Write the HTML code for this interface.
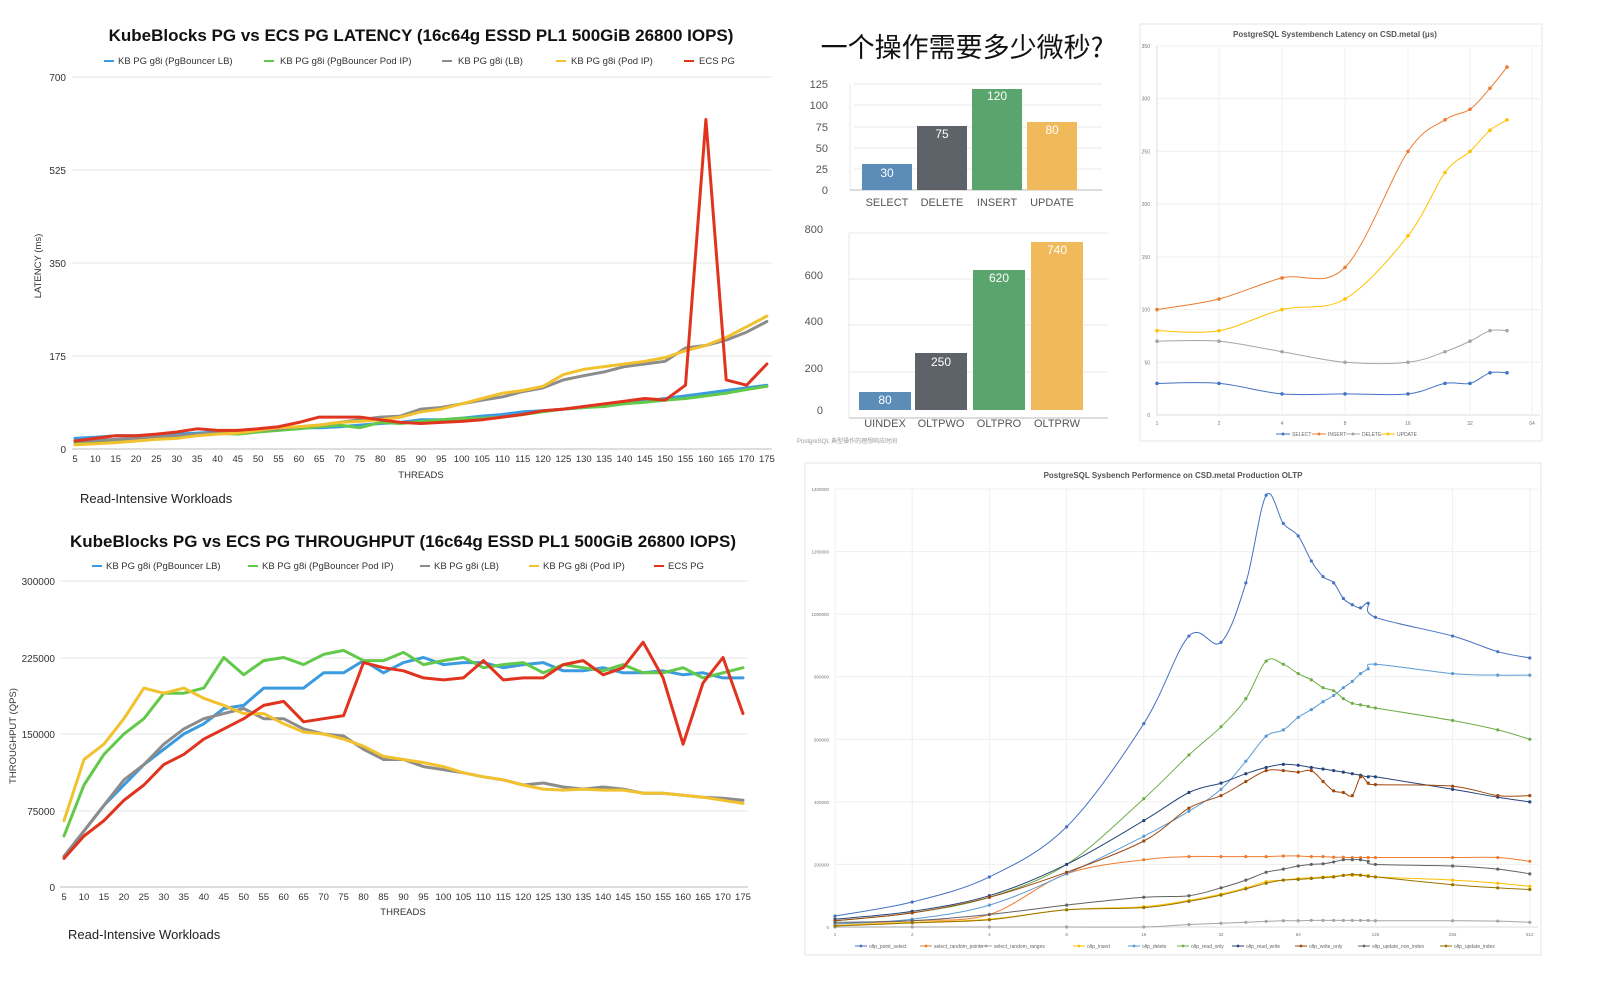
<!DOCTYPE html>
<html><head><meta charset="utf-8">
<style>
html,body{margin:0;padding:0;background:#fff;}
svg{display:block;font-family:"Liberation Sans","Noto Sans CJK SC",sans-serif;}
</style></head>
<body>
<svg id="s" width="1600" height="995" viewBox="0 0 1600 995" xmlns="http://www.w3.org/2000/svg">
<rect width="1600" height="995" fill="#fff"/>
<g id="grid"></g>

<!-- TOP-LEFT LATENCY -->
<text x="421" y="41" font-size="17" font-weight="bold" text-anchor="middle" fill="#111">KubeBlocks PG vs ECS PG LATENCY (16c64g ESSD PL1 500GiB 26800 IOPS)</text>
<g font-size="9.5" fill="#333">
<line x1="104" y1="61" x2="114" y2="61" stroke="#3b9be0" stroke-width="2"/><text x="118" y="64">KB PG g8i (PgBouncer LB)</text>
<line x1="264" y1="61" x2="274" y2="61" stroke="#62c94a" stroke-width="2"/><text x="280" y="64">KB PG g8i (PgBouncer Pod IP)</text>
<line x1="442" y1="61" x2="452" y2="61" stroke="#8c8c8c" stroke-width="2"/><text x="458" y="64">KB PG g8i (LB)</text>
<line x1="556" y1="61" x2="566" y2="61" stroke="#f2c12e" stroke-width="2"/><text x="571" y="64">KB PG g8i (Pod IP)</text>
<line x1="684" y1="61" x2="694" y2="61" stroke="#e0341f" stroke-width="2"/><text x="699" y="64">ECS PG</text>
</g>
<g font-size="10" fill="#333" text-anchor="end">
<text x="66" y="81">700</text><text x="66" y="174">525</text><text x="66" y="267">350</text><text x="66" y="360">175</text><text x="66" y="453">0</text>
</g>
<text transform="translate(41,266) rotate(-90)" font-size="9.5" fill="#333" text-anchor="middle">LATENCY  (ms)</text>
<g id="xl1" font-size="9.5" fill="#333" text-anchor="middle"></g>
<text x="421" y="478" font-size="9.5" fill="#333" text-anchor="middle">THREADS</text>
<text x="80" y="503" font-size="13" fill="#222">Read-Intensive Workloads</text>

<!-- BOTTOM-LEFT THROUGHPUT -->
<text x="403" y="547" font-size="17" font-weight="bold" text-anchor="middle" fill="#111">KubeBlocks PG vs ECS PG THROUGHPUT (16c64g ESSD PL1 500GiB 26800 IOPS)</text>
<g font-size="9.5" fill="#333">
<line x1="92" y1="566" x2="102" y2="566" stroke="#3b9be0" stroke-width="2"/><text x="106" y="569">KB PG g8i (PgBouncer LB)</text>
<line x1="248" y1="566" x2="258" y2="566" stroke="#62c94a" stroke-width="2"/><text x="262" y="569">KB PG g8i (PgBouncer Pod IP)</text>
<line x1="420" y1="566" x2="430" y2="566" stroke="#8c8c8c" stroke-width="2"/><text x="434" y="569">KB PG g8i (LB)</text>
<line x1="529" y1="566" x2="539" y2="566" stroke="#f2c12e" stroke-width="2"/><text x="543" y="569">KB PG g8i (Pod IP)</text>
<line x1="654" y1="566" x2="664" y2="566" stroke="#e0341f" stroke-width="2"/><text x="668" y="569">ECS PG</text>
</g>
<g font-size="10" fill="#333" text-anchor="end">
<text x="55" y="585">300000</text><text x="55" y="662">225000</text><text x="55" y="738">150000</text><text x="55" y="815">75000</text><text x="55" y="891">0</text>
</g>
<text transform="translate(16,736) rotate(-90)" font-size="9.5" fill="#333" text-anchor="middle">THROUGHPUT  (QPS)</text>
<g id="xl2" font-size="9.5" fill="#333" text-anchor="middle"></g>
<text x="403" y="915" font-size="9.5" fill="#333" text-anchor="middle">THREADS</text>
<text x="68" y="939" font-size="13" fill="#222">Read-Intensive Workloads</text>

<!-- MIDDLE BAR CHARTS -->
<text x="962" y="57" font-size="27" text-anchor="middle" fill="#111" font-family="'Noto Sans CJK SC',sans-serif">一个操作需要多少微秒?</text>
<g stroke="#e8e8e8" stroke-width="1">
<line x1="854" y1="84" x2="1102" y2="84"/><line x1="854" y1="105" x2="1102" y2="105"/><line x1="854" y1="127" x2="1102" y2="127"/><line x1="854" y1="148" x2="1102" y2="148"/><line x1="854" y1="169" x2="1102" y2="169"/>
<line x1="850" y1="84" x2="850" y2="190"/>
<line x1="849" y1="233" x2="1108" y2="233"/><line x1="849" y1="279" x2="1108" y2="279"/><line x1="849" y1="325" x2="1108" y2="325"/><line x1="849" y1="372" x2="1108" y2="372"/>
<line x1="849" y1="233" x2="849" y2="418"/>
</g>
<line x1="850" y1="190" x2="1102" y2="190" stroke="#bbb"/>
<line x1="849" y1="418" x2="1108" y2="418" stroke="#bbb"/>
<g font-size="11" fill="#555" text-anchor="end">
<text x="828" y="88">125</text><text x="828" y="109">100</text><text x="828" y="131">75</text><text x="828" y="152">50</text><text x="828" y="173">25</text><text x="828" y="194">0</text>
<text x="823" y="233">800</text><text x="823" y="279">600</text><text x="823" y="325">400</text><text x="823" y="372">200</text><text x="823" y="414">0</text>
</g>
<rect x="862" y="164" width="50" height="26" fill="#5b8db8"/>
<rect x="917" y="126" width="50" height="64" fill="#5d6369"/>
<rect x="972" y="89" width="50" height="101" fill="#5aa56d"/>
<rect x="1027" y="122" width="50" height="68" fill="#f0b95a"/>
<g font-size="12" fill="#fff" text-anchor="middle">
<text x="887" y="177">30</text><text x="942" y="138">75</text><text x="997" y="100">120</text><text x="1052" y="134">80</text>
</g>
<g font-size="11" fill="#555" text-anchor="middle">
<text x="887" y="206">SELECT</text><text x="942" y="206">DELETE</text><text x="997" y="206">INSERT</text><text x="1052" y="206">UPDATE</text>
</g>
<rect x="859" y="392" width="52" height="18" fill="#5b8db8"/>
<rect x="915" y="353" width="52" height="57" fill="#5d6369"/>
<rect x="973" y="270" width="52" height="140" fill="#5aa56d"/>
<rect x="1031" y="242" width="52" height="168" fill="#f0b95a"/>
<g font-size="12" fill="#fff" text-anchor="middle">
<text x="885" y="404">80</text><text x="941" y="366">250</text><text x="999" y="282">620</text><text x="1057" y="254">740</text>
</g>
<g font-size="11" fill="#555" text-anchor="middle">
<text x="885" y="427">UINDEX</text><text x="941" y="427">OLTPWO</text><text x="999" y="427">OLTPRO</text><text x="1057" y="427">OLTPRW</text>
</g>
<text x="797" y="443" font-size="6" fill="#999">PostgreSQL 典型操作的理想响应时间</text>

<!-- TOP-RIGHT -->
<rect x="1140" y="24" width="402" height="417" fill="#fff" stroke="#e6e6e6"/>
<text x="1335" y="37" font-size="8" font-weight="bold" fill="#555" text-anchor="middle">PostgreSQL Systembench Latency on CSD.metal  (μs)</text>
<g id="tr"></g>
<g font-size="5" fill="#666">
<line x1="1276" y1="434" x2="1290" y2="434" stroke="#4472c4"/><circle cx="1283" cy="434" r="1.5" fill="#4472c4"/><text x="1292" y="436">SELECT</text>
<line x1="1312" y1="434" x2="1326" y2="434" stroke="#ed7d31"/><circle cx="1319" cy="434" r="1.5" fill="#ed7d31"/><text x="1328" y="436">INSERT</text>
<line x1="1346" y1="434" x2="1360" y2="434" stroke="#a5a5a5"/><circle cx="1353" cy="434" r="1.5" fill="#a5a5a5"/><text x="1362" y="436">DELETE</text>
<line x1="1381" y1="434" x2="1395" y2="434" stroke="#ffc000"/><circle cx="1388" cy="434" r="1.5" fill="#ffc000"/><text x="1397" y="436">UPDATE</text>
</g>

<!-- BOTTOM-RIGHT -->
<rect x="805" y="463" width="736" height="492" fill="#fff" stroke="#e6e6e6"/>
<text x="1173" y="478" font-size="8" font-weight="bold" fill="#555" text-anchor="middle">PostgreSQL Sysbench Performence on CSD.metal Production OLTP</text>
<g id="br"></g>
<g id="brleg" font-size="5" fill="#666"></g>
</svg>
<script>
var NS="http://www.w3.org/2000/svg";
function el(parent,tag,attrs,txt){var e=document.createElementNS(NS,tag);for(var k in attrs)e.setAttribute(k,attrs[k]);if(txt!==undefined)e.textContent=txt;document.getElementById(parent).appendChild(e);return e;}
function poly(parent,pts,color,w){el(parent,"polyline",{points:pts.map(function(p){return p[0].toFixed(1)+","+p[1].toFixed(1)}).join(" "),fill:"none",stroke:color,"stroke-width":w,"stroke-linejoin":"round","stroke-linecap":"round"});}
function smooth(parent,pts,color,w){
 var d="M"+pts[0][0]+","+pts[0][1];
 for(var i=0;i<pts.length-1;i++){var p0=pts[i-1]||pts[i],p1=pts[i],p2=pts[i+1],p3=pts[i+2]||p2;
  var c1=[p1[0]+(p2[0]-p0[0])/6,p1[1]+(p2[1]-p0[1])/6],c2=[p2[0]-(p3[0]-p1[0])/6,p2[1]-(p3[1]-p1[1])/6];
  d+=" C"+c1[0].toFixed(1)+","+c1[1].toFixed(1)+" "+c2[0].toFixed(1)+","+c2[1].toFixed(1)+" "+p2[0].toFixed(1)+","+p2[1].toFixed(1);}
 el(parent,"path",{d:d,fill:"none",stroke:color,"stroke-width":w});
}
function dots(parent,pts,color,r){pts.forEach(function(p){el(parent,"circle",{cx:p[0],cy:p[1],r:r,fill:color});});}
var C=["#3b9be0","#62c94a","#8c8c8c","#f2c12e","#e0341f"];
// grids
[77,170,263,356].forEach(function(y){el("grid","line",{x1:72,y1:y,x2:772,y2:y,stroke:"#e4e4e4"});});
el("grid","line",{x1:72,y1:449,x2:772,y2:449,stroke:"#bbb"});
[581,658,734,811].forEach(function(y){el("grid","line",{x1:60,y1:y,x2:748,y2:y,stroke:"#e4e4e4"});});
el("grid","line",{x1:60,y1:887,x2:748,y2:887,stroke:"#bbb"});
// latency
var L=[
[20,22,25,25,27,28,30,32,35,35,38,40,40,42,45,48,50,55,55,58,62,65,70,72,75,78,82,85,90,95,100,105,110,115,120],
[12,14,16,18,20,22,28,30,28,32,35,38,42,45,40,50,48,52,55,58,58,60,65,70,75,78,80,85,88,92,95,100,105,112,118],
[15,16,18,20,22,25,28,30,32,35,38,42,45,50,55,60,62,75,78,85,92,98,108,115,130,138,145,155,160,165,190,195,205,220,240],
[8,10,12,15,18,20,25,28,30,35,40,42,45,50,52,55,60,70,75,85,95,105,110,118,140,150,155,160,165,172,185,195,210,230,250],
[15,20,25,25,28,32,38,35,35,38,42,50,60,60,60,55,50,48,50,52,55,60,65,72,75,80,85,90,95,92,120,620,130,120,160]];
for(var i=0;i<35;i++){el("xl1","text",{x:75+i*20.35,y:462},String(5+5*i));el("xl2","text",{x:64+i*19.97,y:900},String(5+5*i));}
L.forEach(function(s,k){poly("grid",s.map(function(v,i){return[75+i*20.35,449-v*93/175]}),C[k],3);});
var T=[
[30,55,80,100,120,135,150,160,175,178,195,195,195,210,210,222,210,220,225,218,220,220,215,218,220,212,212,215,210,210,212,208,210,205,205],
[50,100,130,150,165,190,190,195,225,208,222,225,218,228,232,222,222,230,218,222,225,215,218,220,210,218,215,212,218,210,210,215,205,210,215],
[30,55,80,105,120,140,155,165,170,175,165,165,155,150,148,135,125,125,118,115,112,108,105,100,102,98,96,98,96,92,92,90,88,87,85],
[65,125,140,165,195,190,195,185,178,170,170,160,152,150,145,138,128,125,122,118,112,108,105,100,96,95,96,95,95,92,92,90,88,85,82],
[28,50,65,85,100,120,130,145,155,165,178,182,162,165,168,220,215,212,205,203,205,222,203,205,205,218,222,208,215,240,205,140,200,225,170]];
T.forEach(function(s,k){poly("grid",s.map(function(v,i){return[64+i*19.97,887-v*306/300]}),C[k],3);});
// top-right
var trY=function(v){return 415-v*369/350;};
[0,50,100,150,200,250,300,350].forEach(function(v){el("tr","line",{x1:1157,y1:trY(v),x2:1540,y2:trY(v),stroke:v?"#efefef":"#ddd"});el("tr","text",{x:1150,y:trY(v)+2,"font-size":5,fill:"#777","text-anchor":"end"},String(v));});
var trX=[1157,1219,1282,1345,1408,1470,1532];["1","2","4","8","16","32","64"].forEach(function(t,i){el("tr","line",{x1:trX[i],y1:46,x2:trX[i],y2:415,stroke:"#f2f2f2"});el("tr","text",{x:trX[i],y:425,"font-size":5,fill:"#777","text-anchor":"middle"},t);});
el("tr","line",{x1:1157,y1:46,x2:1157,y2:415,stroke:"#ddd"});
var px=[1157,1219,1282,1345,1408,1445,1470,1490,1507];
var TR=[["#4472c4",[30,30,20,20,20,30,30,40,40]],["#ed7d31",[100,110,130,140,250,280,290,310,330]],["#a5a5a5",[70,70,60,50,50,60,70,80,80]],["#ffc000",[80,80,100,110,170,230,250,270,280]]];
TR.forEach(function(s){var p=s[1].map(function(v,i){return[px[i],trY(v)]});smooth("tr",p,s[0],1);dots("tr",p,s[0],1.8);});
// bottom-right
var bY=function(v){return 927-v*438/140;};
for(var v=0;v<=140;v+=20){el("br","line",{x1:835,y1:bY(v),x2:1538,y2:bY(v),stroke:v?"#efefef":"#ddd"});el("br","text",{x:829,y:bY(v)+2,"font-size":4.5,fill:"#777","text-anchor":"end"},v?String(v*10000):"0");}
var bX=function(n){return 835+Math.log(n)/Math.LN2*77.2;};
[1,2,4,8,16,32,64,128,256,512].forEach(function(n){el("br","line",{x1:bX(n),y1:bY(140),x2:bX(n),y2:927,stroke:"#f0f0f0"});el("br","text",{x:bX(n),y:936,"font-size":4.5,fill:"#777","text-anchor":"middle"},String(n));});
var N=[1,2,4,8,16,24,32,40,48,56,64,72,80,88,96,104,112,120,128,256,384,512];
var BR=[
["#4472c4","oltp_point_select",[3.5,8,16,32,65,93,91,110,138,129,125,117,112,110,105,103,102,103.5,99,93,88,86]],
["#ed7d31","select_random_points",[1,2,4,17,21.5,22.5,22.5,22.5,22.5,22.7,22.7,22.5,22.5,22.3,22.3,22.2,22.2,22.2,22.2,22.2,22.2,21]],
["#a5a5a5","select_random_ranges",[0,0,0,0,0,0.8,1.2,1.5,1.8,2,2,2.1,2.1,2.1,2.1,2.1,2.1,2.1,2,2,1.9,1.5]],
["#ffc000","oltp_insert",[0.5,1.5,2.5,5.5,6.5,8.5,10.5,12.5,14.5,15,15.5,15.7,16,16.2,16.5,16.5,16.5,16.5,16,15,14,13]],
["#5b9bd5","oltp_delete",[1,2.5,7,17,29,37,44,53,61,63,67,69.5,72,74,76.5,78.5,81,82.5,84,81,80.5,80.5]],
["#70ad47","oltp_read_only",[2,4.5,9.5,20,41,55,64,73,85,84,81,79,76.5,75.5,73,71.5,71,70.5,70,66,63,60]],
["#264478","oltp_read_write",[2.5,5,10,20,34,43,46,49,51,52,51.7,51,50.5,50,49.5,49,48.5,48,48,44,41.5,40]],
["#9e480e","oltp_write_only",[2,4.5,9.5,17.5,27.5,38,42,46.5,50,50,49.5,50,46.5,43.5,43,42,48,46,45.5,45,42,42]],
["#636363","oltp_update_non_index",[1.5,2,4,7,9.5,10,12.5,15,17.5,18.5,19.5,20,20.2,20.8,21.5,21.5,21.5,21,20,19.5,18.5,17]],
["#997300","oltp_update_index",[0.3,1.3,2.3,5.5,6.2,8.2,10.2,12.2,14,15,15.2,15.5,15.8,16,16.5,16.8,16.6,16.2,16,13.5,12.5,12]]];
BR.forEach(function(s){var p=s[2].map(function(v,i){return[bX(N[i]),bY(v)]});smooth("br",p,s[0],1);dots("br",p,s[0],1.6);});
var lx=[855,920,980,1073,1128,1177,1232,1295,1358,1440];
BR.forEach(function(s,i){el("brleg","line",{x1:lx[i],y1:946,x2:lx[i]+12,y2:946,stroke:s[0]});el("brleg","circle",{cx:lx[i]+6,cy:946,r:1.4,fill:s[0]});el("brleg","text",{x:lx[i]+14,y:948},s[1]);});
</script>
</body></html>
